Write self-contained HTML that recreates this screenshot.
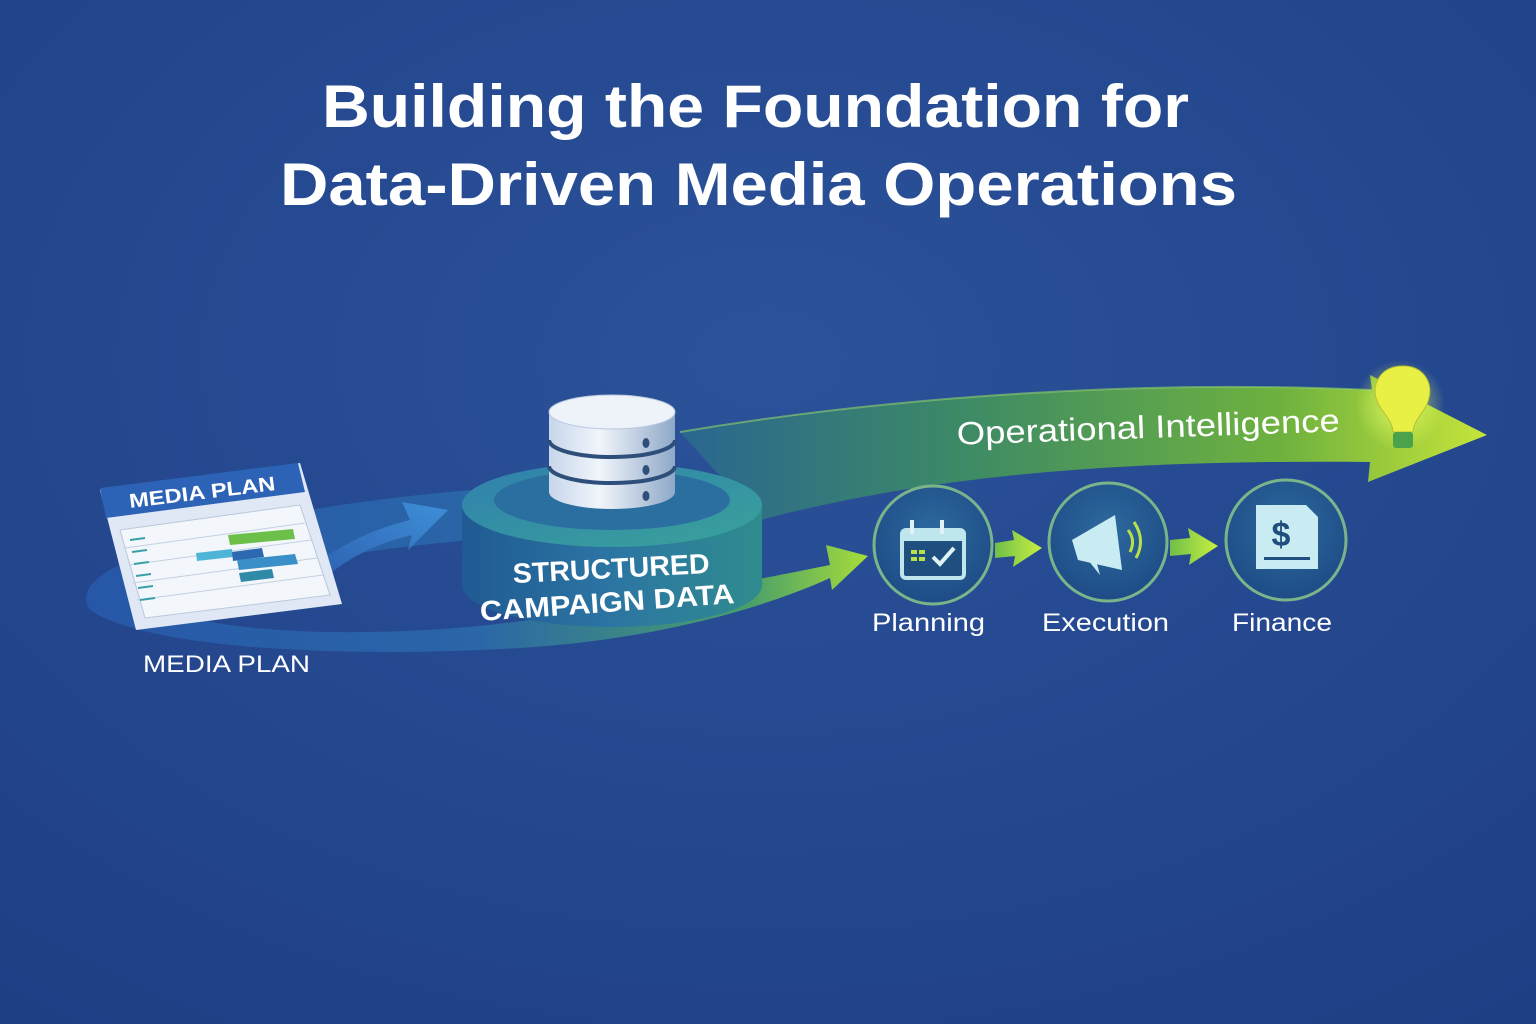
<!DOCTYPE html>
<html><head><meta charset="utf-8"><style>
html,body{margin:0;padding:0;width:1536px;height:1024px;overflow:hidden;background:#23468c}
svg{display:block}
text{font-family:"Liberation Sans","DejaVu Sans",sans-serif}
</style></head><body>
<svg width="1536" height="1024" viewBox="0 0 1536 1024" xmlns="http://www.w3.org/2000/svg">
<defs>
<radialGradient id="bg" cx="0.5" cy="0.35" r="0.8">
<stop offset="0" stop-color="#2b529a"/><stop offset="1" stop-color="#1f3f85"/>
</radialGradient>
<linearGradient id="lowBand" x1="0" y1="0" x2="1" y2="0">
<stop offset="0" stop-color="#2757a8"/><stop offset="0.5" stop-color="#2a66a8"/><stop offset="0.85" stop-color="#4aa06a"/><stop offset="1" stop-color="#a6dc3a"/>
</linearGradient>
<linearGradient id="topBand" x1="0" y1="0" x2="1" y2="0">
<stop offset="0" stop-color="#2a6690"/><stop offset="0.35" stop-color="#3d8a66"/><stop offset="0.75" stop-color="#6fb23e"/><stop offset="1" stop-color="#c6e43a"/>
</linearGradient>
<linearGradient id="blueArr" x1="0" y1="1" x2="1" y2="0">
<stop offset="0" stop-color="#2a5aaa"/><stop offset="1" stop-color="#3f8fd8"/>
</linearGradient>
<linearGradient id="plat" x1="0" y1="0" x2="1" y2="0">
<stop offset="0" stop-color="#1f5a92"/><stop offset="0.5" stop-color="#2c75a3"/><stop offset="1" stop-color="#2f8c8e"/>
</linearGradient>
<linearGradient id="platTop" x1="0" y1="0" x2="1" y2="1">
<stop offset="0" stop-color="#2f7fae"/><stop offset="1" stop-color="#3aa39a"/>
</linearGradient>
<linearGradient id="db" x1="0" y1="0" x2="1" y2="0">
<stop offset="0" stop-color="#c7d6ea"/><stop offset="0.4" stop-color="#f1f5fb"/><stop offset="1" stop-color="#8ea8c8"/>
</linearGradient>
<radialGradient id="circ" cx="0.5" cy="0.4" r="0.6">
<stop offset="0" stop-color="#2d6a9e"/><stop offset="1" stop-color="#1e4c86"/>
</radialGradient>
<radialGradient id="glow" cx="0.5" cy="0.5" r="0.5">
<stop offset="0" stop-color="#e9ff6a" stop-opacity="0.8"/><stop offset="1" stop-color="#e9ff6a" stop-opacity="0"/>
</radialGradient>
<linearGradient id="grA" x1="0" y1="0" x2="1" y2="0">
<stop offset="0" stop-color="#6fbf4a"/><stop offset="1" stop-color="#c8f040"/>
</linearGradient>
</defs>
<rect width="1536" height="1024" fill="url(#bg)"/>

<text x="322" y="127" textLength="867" lengthAdjust="spacingAndGlyphs" font-size="60" font-weight="bold" fill="#fff">Building the Foundation for</text>
<text x="280" y="205" textLength="957" lengthAdjust="spacingAndGlyphs" font-size="60" font-weight="bold" fill="#fff">Data-Driven Media Operations</text>

<!-- upper green band -->
<path d="M680 432 C900 395 1150 380 1372 390 L1370 375 L1487 435 L1368 482 L1370 462 C1150 460 950 470 760 520 Z" fill="url(#topBand)"/>
<path d="M680 432 C900 395 1150 380 1372 390" stroke="#8fd06a" stroke-width="2" fill="none" opacity="0.6"/>
<circle cx="1400" cy="405" r="45" fill="url(#glow)"/>

<!-- lower band -->
<path d="M110 570 C200 520 360 500 470 490 L470 540 C360 550 230 570 150 600 C200 640 420 640 560 615 C680 595 780 575 830 565 L826 545 L868 556 L832 590 L830 578 C760 610 650 640 520 648 C350 658 150 650 90 610 C80 595 90 582 110 570 Z" fill="url(#lowBand)"/>

<!-- blue arrow -->
<path d="M300 575 C340 545 370 530 410 520 L402 502 L448 510 L408 550 L412 535 C370 545 340 562 312 590 Z" fill="url(#blueArr)"/>

<!-- media plan doc -->
<g>
<polygon points="100,490 300,463 342,604 136,630" fill="#dfe8f4"/>
<polygon points="100,488 298,463 305,492 106,518" fill="#2c63b6"/>
<text x="130" y="508" textLength="147" lengthAdjust="spacingAndGlyphs" font-size="20" font-weight="bold" fill="#fff" transform="rotate(-7 130 508)">MEDIA PLAN</text>
<polygon points="120,530 300,505 330,595 145,618" fill="#f3f7fc" stroke="#b8c8dc"/>
<g stroke="#c3d0e0" stroke-width="1">
<line x1="125" y1="548" x2="305" y2="523"/><line x1="129" y1="565" x2="311" y2="540"/>
<line x1="133" y1="583" x2="317" y2="558"/><line x1="137" y1="600" x2="323" y2="575"/>
</g>
<polygon points="228,535 293,529 295,539 230,545" fill="#6cc04a"/>
<polygon points="196,553 232,549 233,557 197,561" fill="#4fb5d6"/>
<polygon points="232,552 262,548 264,557 233,561" fill="#2d68b0"/>
<polygon points="237,560 295,554 298,564 239,570" fill="#3a8fc8"/>
<polygon points="239,573 272,569 274,578 241,582" fill="#2f8aa8"/>
<g stroke="#3aa0a8" stroke-width="2"><line x1="130" y1="540" x2="145" y2="538"/><line x1="132" y1="552" x2="147" y2="550"/><line x1="134" y1="564" x2="149" y2="562"/><line x1="136" y1="576" x2="151" y2="574"/><line x1="138" y1="588" x2="153" y2="586"/><line x1="140" y1="600" x2="155" y2="598"/></g>
</g>
<text x="143" y="672" textLength="167" lengthAdjust="spacingAndGlyphs" font-size="24" fill="#fff">MEDIA PLAN</text>

<!-- platform -->
<path d="M462 505 L462 585 A150 42 0 0 0 762 585 L762 505 Z" fill="url(#plat)"/>
<ellipse cx="612" cy="505" rx="150" ry="42" fill="url(#platTop)"/>
<ellipse cx="612" cy="500" rx="118" ry="30" fill="#2a6fa0"/>
<text x="513" y="578" textLength="197" lengthAdjust="spacingAndGlyphs" font-size="28" font-weight="bold" fill="#fff" transform="rotate(-3 612 575)">STRUCTURED</text>
<text x="480" y="612" textLength="255" lengthAdjust="spacingAndGlyphs" font-size="28" font-weight="bold" fill="#fff" transform="rotate(-4 607 608)">CAMPAIGN DATA</text>

<!-- database -->
<g>
<path d="M549 412 L549 492 A63 17 0 0 0 675 492 L675 412 Z" fill="url(#db)"/>
<path d="M549 440 A63 17 0 0 0 675 440" stroke="#2d4f7a" stroke-width="4" fill="none"/>
<path d="M549 466 A63 17 0 0 0 675 466" stroke="#2d4f7a" stroke-width="4" fill="none"/>
<ellipse cx="612" cy="412" rx="63" ry="17" fill="#eef3fa" stroke="#b9c9de"/>
<ellipse cx="646" cy="443" rx="3.5" ry="5" fill="#2d4f7a"/>
<ellipse cx="646" cy="470" rx="3.5" ry="5" fill="#2d4f7a"/>
<ellipse cx="646" cy="496" rx="3.5" ry="5" fill="#2d4f7a"/>
</g>

<text x="957" y="438" textLength="383" lengthAdjust="spacingAndGlyphs" font-size="32" fill="#fff" transform="rotate(-2 1148 436)">Operational Intelligence</text>
<!-- bulb -->
<path d="M1403 366 C1382 366 1372 382 1376 398 C1380 412 1392 418 1393 432 L1413 432 C1414 418 1426 412 1429 398 C1433 382 1423 366 1403 366 Z" fill="#e8f046" stroke="#b8c030"/>
<rect x="1393" y="432" width="20" height="16" rx="3" fill="#4aa24a"/>

<!-- circles -->
<g stroke="#7ab48a" stroke-width="3" fill="url(#circ)">
<circle cx="933" cy="545" r="59"/><circle cx="1108" cy="542" r="59"/><circle cx="1286" cy="540" r="60"/>
</g>
<!-- small arrows -->
<path d="M995 543 L1014 540 L1012 530 L1042 548 L1013 567 L1015 556 L995 558 Z" fill="url(#grA)"/>
<path d="M1170 540 L1190 538 L1188 528 L1218 546 L1189 565 L1191 554 L1170 556 Z" fill="url(#grA)"/>
<!-- calendar -->
<rect x="902" y="530" width="62" height="48" rx="4" fill="#1f4f7e" stroke="#bfe6ec" stroke-width="4"/>
<rect x="902" y="530" width="62" height="11" fill="#bfe6ec"/>
<rect x="910" y="520" width="4" height="14" fill="#dff3f6"/><rect x="940" y="520" width="4" height="14" fill="#dff3f6"/>
<g fill="#b8e04a"><rect x="911" y="550" width="6" height="4"/><rect x="919" y="550" width="6" height="4"/><rect x="911" y="557" width="6" height="4"/><rect x="919" y="557" width="6" height="4"/></g>
<path d="M933 557 L940 564 L954 548" stroke="#dff3f6" stroke-width="4" fill="none"/>
<!-- megaphone -->
<path d="M1072 540 L1115 515 L1122 570 L1078 560 Z" fill="#c8ecf2"/>
<path d="M1088 560 L1100 575 L1096 560 Z" fill="#c8ecf2"/>
<path d="M1128 530 Q1136 540 1130 552" stroke="#b8e04a" stroke-width="3" fill="none"/>
<path d="M1134 522 Q1146 540 1136 558" stroke="#b8e04a" stroke-width="3" fill="none"/>
<!-- finance doc -->
<path d="M1256 505 L1306 505 L1318 517 L1318 569 L1256 569 Z" fill="#c8ecf2"/>
<text x="1281" y="546" text-anchor="middle" font-size="34" font-weight="bold" fill="#1f4f7e">$</text>
<rect x="1264" y="557" width="46" height="3" fill="#1f4f7e"/>

<text x="872" y="631" textLength="113" lengthAdjust="spacingAndGlyphs" font-size="25" fill="#fff">Planning</text>
<text x="1042" y="631" textLength="127" lengthAdjust="spacingAndGlyphs" font-size="25" fill="#fff">Execution</text>
<text x="1232" y="631" textLength="100" lengthAdjust="spacingAndGlyphs" font-size="25" fill="#fff">Finance</text>
</svg>
</body></html>
